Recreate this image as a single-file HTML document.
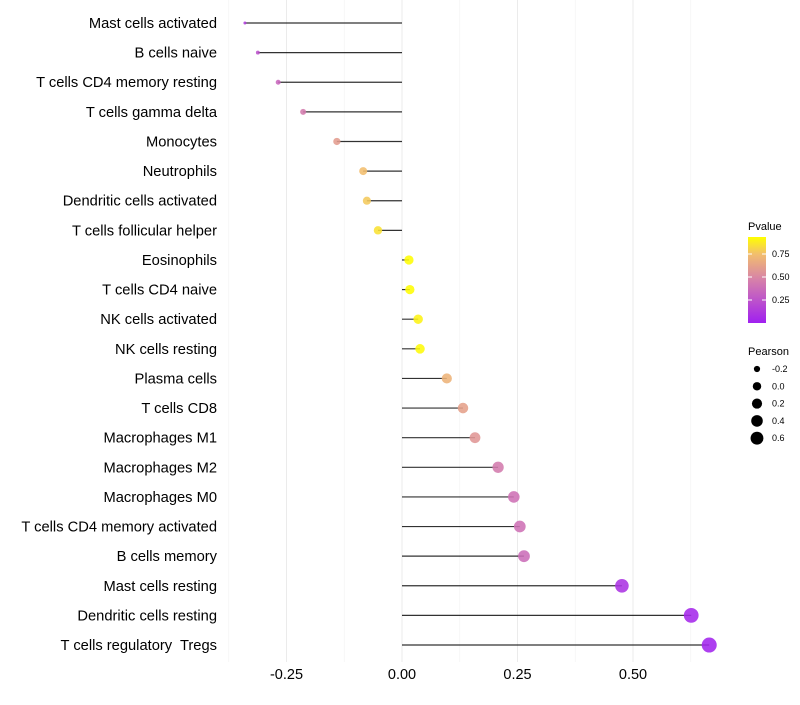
<!DOCTYPE html>
<html><head><meta charset="utf-8"><style>
body{margin:0;background:#fff;font-family:"Liberation Sans",sans-serif}
text{white-space:pre}
</style></head><body>
<svg id="c" width="800" height="700" xmlns="http://www.w3.org/2000/svg"></svg>
<script>
const categories=["Mast cells activated","B cells naive","T cells CD4 memory resting","T cells gamma delta","Monocytes","Neutrophils","Dendritic cells activated","T cells follicular helper","Eosinophils","T cells CD4 naive","NK cells activated","NK cells resting","Plasma cells","T cells CD8","Macrophages M1","Macrophages M2","Macrophages M0","T cells CD4 memory activated","B cells memory","Mast cells resting","Dendritic cells resting","T cells regulatory  Tregs"];
const pearson=[-0.34,-0.312,-0.268,-0.214,-0.141,-0.084,-0.076,-0.052,0.015,0.017,0.035,0.039,0.097,0.132,0.158,0.208,0.242,0.255,0.264,0.476,0.626,0.665];
const pvalue=[0.15,0.25,0.35,0.45,0.6,0.75,0.78,0.85,0.93,0.93,0.9,0.92,0.7,0.62,0.57,0.45,0.4,0.4,0.38,0.1,0.05,0.03];
const xTicks=[-0.25,0,0.25,0.5];
const xTickLabels=["-0.25","0.00","0.25","0.50"];
const pTicks=[0.25,0.5,0.75];
const sizeLegend=[-0.2,0.0,0.2,0.4,0.6];
const NS="http://www.w3.org/2000/svg",svg=document.getElementById('c');
const x=v=>402+v*462, y=i=>23+i*29.62;
const r=v=>Math.sqrt(2.25+54*Math.max(0,v+0.34));
function col(p){const t=Math.max(0,Math.min(1,(p-0.01)/0.925));
 const s=[[0,[160,32,240]],[0.5,[214,128,170]],[0.8,[242,190,110]],[1,[255,255,0]]];
 for(let k=1;k<s.length;k++){if(t<=s[k][0]){const a=s[k-1],b=s[k],u=(t-a[0])/(b[0]-a[0]);
 return 'rgb('+a[1].map((c,j)=>Math.round(c+(b[1][j]-c)*u)).join(',')+')';}}return 'rgb(255,255,0)';}
function el(t,a,p){const e=document.createElementNS(NS,t);for(const k in a)e.setAttribute(k,a[k]);(p||svg).appendChild(e);return e;}
[-0.375,-0.125,0.125,0.375,0.625].forEach(v=>{const g=el('line',{x1:x(v),x2:x(v),y1:0,y2:662,stroke:'#f2f2f2','stroke-width':0.6});});
xTicks.forEach((v,i)=>{const g=el('line',{x1:x(v),x2:x(v),y1:0,y2:662,stroke:'#ebebeb','stroke-width':1});
 const t=el('text',{x:x(v),y:679,'text-anchor':'middle','font-size':14.5,fill:'#000'});t.textContent=xTickLabels[i];});
categories.forEach((c,i)=>{
 const t=el('text',{x:217,y:y(i)+5,'text-anchor':'end','font-size':14.7,fill:'#000'});t.textContent=c;
 
 const l=el('line',{x1:x(0),x2:x(pearson[i]),y1:y(i),y2:y(i),stroke:'#000','stroke-width':1.2,opacity:0.8});
 
 const d=el('circle',{cx:x(pearson[i]),cy:y(i),r:r(pearson[i]),fill:col(pvalue[i]),opacity:0.88});
 
});
const defs=el('defs',{});const lg=el('linearGradient',{id:'g',x1:0,y1:1,x2:0,y2:0},defs);
for(let k=0;k<=10;k++){el('stop',{offset:k/10,'stop-color':col(0.01+k*0.0925)},lg);}
let t=el('text',{x:748,y:230,'font-size':11,fill:'#000'});t.textContent='Pvalue';
const bar=el('rect',{x:748,y:237,width:18,height:86,fill:'url(#g)'});
pTicks.forEach(p=>{const yy=323-p*92;el('line',{x1:748,x2:752,y1:yy,y2:yy,stroke:'#fff'});el('line',{x1:762,x2:766,y1:yy,y2:yy,stroke:'#fff'});
 const tt=el('text',{x:772,y:yy+3,'font-size':9,fill:'#000'});tt.textContent=p.toFixed(2);});
t=el('text',{x:748,y:355,'font-size':11,fill:'#000'});t.textContent='Pearson';
sizeLegend.forEach((v,i)=>{const yy=369+i*17.3;const c=el('circle',{cx:757,cy:yy,r:r(v)*0.8+0.6,fill:'#000'});
 const tt=el('text',{x:772,y:yy+3,'font-size':9,fill:'#000'});tt.textContent=v.toFixed(1);});
</script></body></html>
